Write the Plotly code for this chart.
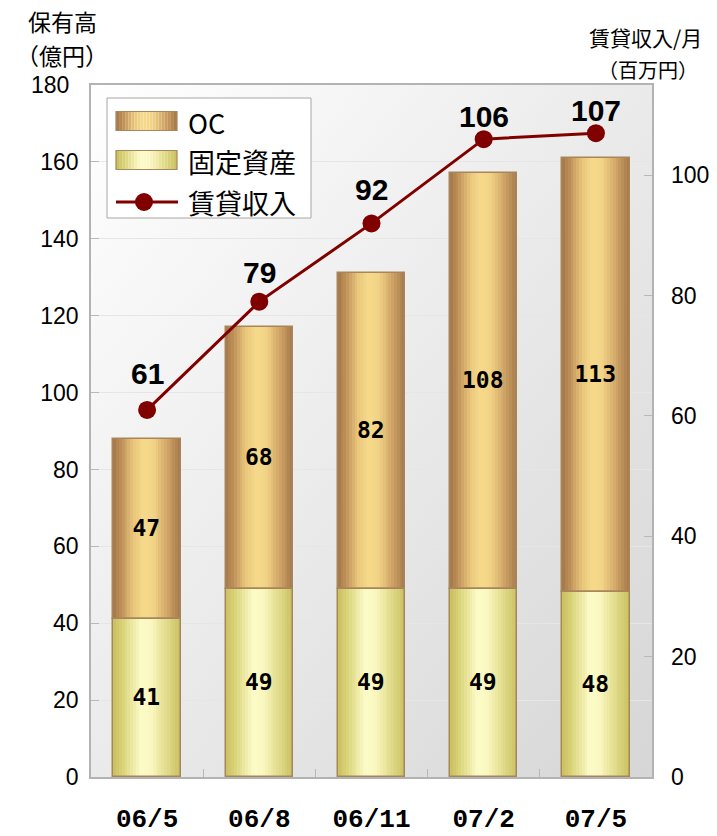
import base64
import plotly.graph_objects as go

# ---- data -------------------------------------------------------------
periods = ["06/5", "06/8", "06/11", "07/2", "07/5"]
fixed_assets = [41, 49, 49, 49, 48]          # 固定資産 (億円)
oc_holdings = [47, 68, 82, 108, 113]         # OC (億円)
rental_income = [61, 79, 92, 106, 107]       # 賃貸収入 (百万円/月)

left_ticks = [0, 20, 40, 60, 80, 100, 120, 140, 160]
left_top = 180
right_ticks = [0, 20, 40, 60, 80, 100]

# ---- styling ----------------------------------------------------------
W, H = 717, 836
ML, MR, MT, MB = 91, 65, 85, 59
PW, PH = W - ML - MR, H - MT - MB

BAR_W = 0.6
N_STRIPS = 24
CJK = "Noto Sans CJK JP"
SANS = "Liberation Sans"

OC_STOPS = [(0.0, "#a3764a"), (0.12, "#bf9259"), (0.3, "#e9c67c"), (0.45, "#f6da8a"),
            (0.6, "#f2d386"), (0.8, "#d0a566"), (1.0, "#a5774a")]
FIX_STOPS = [(0.0, "#c8bf5e"), (0.15, "#dbd57c"), (0.4, "#fcfac6"), (0.55, "#fbf8c2"),
             (0.8, "#e0da88"), (1.0, "#c9c060")]
EDGE = "#a8855a"
LINE_RED = "#800000"


def hex2rgb(h):
    h = h.lstrip("#")
    return tuple(int(h[i:i + 2], 16) for i in (0, 2, 4))


def grad(stops, t):
    for (t0, c0), (t1, c1) in zip(stops, stops[1:]):
        if t0 <= t <= t1:
            f = (t - t0) / (t1 - t0)
            a, b = hex2rgb(c0), hex2rgb(c1)
            r, g, bl = (round(a[k] + (b[k] - a[k]) * f) for k in range(3))
            return f"rgb({r},{g},{bl})"
    return stops[-1][1]


def px(x):
    return (x - ML) / PW


def py(y):
    return (H - MB - y) / PH


fig = go.Figure()

# stacked bars drawn as narrow vertical strips to give a cylinder shading
for i in range(N_STRIPS):
    t = (i + 0.5) / N_STRIPS
    off = -BAR_W / 2 + i * BAR_W / N_STRIPS
    fig.add_trace(go.Bar(x=periods, y=fixed_assets, width=BAR_W / N_STRIPS, offset=off,
                         marker=dict(color=grad(FIX_STOPS, t), line=dict(width=0)),
                         showlegend=False, hoverinfo="skip"))
    fig.add_trace(go.Bar(x=periods, y=oc_holdings, base=fixed_assets,
                         width=BAR_W / N_STRIPS, offset=off,
                         marker=dict(color=grad(OC_STOPS, t), line=dict(width=0)),
                         showlegend=False, hoverinfo="skip"))

# outlines + value labels
label_font = dict(family="DejaVu Sans Mono", size=23, color="black", weight="bold")
fig.add_trace(go.Bar(x=periods, y=fixed_assets, width=BAR_W, offset=-BAR_W / 2,
                     marker=dict(color="rgba(0,0,0,0)", line=dict(color=EDGE, width=1.5)),
                     text=fixed_assets, textposition="inside", insidetextanchor="middle",
                     textangle=0, textfont=label_font, constraintext="none",
                     showlegend=False, name="固定資産"))
fig.add_trace(go.Bar(x=periods, y=oc_holdings, base=fixed_assets, width=BAR_W,
                     offset=-BAR_W / 2,
                     marker=dict(color="rgba(0,0,0,0)", line=dict(color=EDGE, width=1.5)),
                     text=oc_holdings, textposition="inside", insidetextanchor="middle",
                     textangle=0, textfont=label_font, constraintext="none",
                     showlegend=False, name="OC"))

# rental income line (right axis)
fig.add_trace(go.Scatter(x=periods, y=rental_income, yaxis="y2", mode="lines+markers",
                         line=dict(color=LINE_RED, width=3),
                         marker=dict(size=18, color=LINE_RED),
                         showlegend=False, name="賃貸収入"))

annotations = []
label_lift = [36, 29, 34, 23, 23]
for p, v, lift in zip(periods, rental_income, label_lift):
    annotations.append(dict(x=p, y=v, xref="x", yref="y2", yshift=lift, text=str(v),
                            showarrow=False, xanchor="center", yanchor="middle",
                            font=dict(family=SANS, size=30, color="black", weight="bold")))


def note(x, y, text, font, xanchor="center"):
    return dict(x=px(x), y=py(y), xref="paper", yref="paper", text=text, showarrow=False,
                xanchor=xanchor, yanchor="middle", font=font)


# axis titles
title_font = dict(family=CJK, size=23, color="black")
annotations += [
    note(62, 21, "保有高", title_font),
    note(62, 55, "（億円）", title_font),
    note(645, 37, "賃貸収入/月", dict(family=CJK, size=21, color="black")),
    note(648, 69, "（百万円）", dict(family=CJK, size=20, color="black")),
    dict(x=px(71), y=left_top, xref="paper", yref="y", text=str(left_top), xanchor="right",
         yanchor="middle", showarrow=False, font=dict(family=SANS, size=23, color="black")),
]

# legend box
shapes = [dict(type="rect", xref="paper", yref="paper", x0=px(107), x1=px(311),
               y0=py(218), y1=py(98), fillcolor="white", line=dict(color="#a6a6a6", width=1),
               layer="above")]
sw_x0, sw_x1 = 116, 177
for stops, yc in ((OC_STOPS, 121), (FIX_STOPS, 160)):
    n = 20
    for i in range(n):
        t = (i + 0.5) / n
        shapes.append(dict(type="rect", xref="paper", yref="paper",
                           x0=px(sw_x0 + (sw_x1 - sw_x0) * i / n),
                           x1=px(sw_x0 + (sw_x1 - sw_x0) * (i + 1) / n),
                           y0=py(yc + 9.5), y1=py(yc - 9.5), fillcolor=grad(stops, t),
                           line=dict(width=0), layer="above"))
    shapes.append(dict(type="rect", xref="paper", yref="paper", x0=px(sw_x0), x1=px(sw_x1),
                       y0=py(yc + 9.5), y1=py(yc - 9.5), line=dict(color=EDGE, width=1.2),
                       layer="above"))
shapes.append(dict(type="line", xref="paper", yref="paper", x0=px(116), x1=px(178),
                   y0=py(202), y1=py(202), line=dict(color=LINE_RED, width=3), layer="above"))
shapes.append(dict(type="circle", xref="paper", yref="paper", x0=px(135), x1=px(153),
                   y0=py(211), y1=py(193), fillcolor=LINE_RED, line=dict(color=LINE_RED, width=0),
                   layer="above"))
legend_font = dict(family=CJK, size=27, color="black")
for txt, yc in (("OC", 122), ("固定資産", 161), ("賃貸収入", 202)):
    annotations.append(note(186, yc, txt, legend_font, xanchor="left"))

# plot background: soft diagonal grey gradient
bg_svg = (
    '<svg xmlns="http://www.w3.org/2000/svg" width="100" height="100" viewBox="0 0 100 100" '
    'preserveAspectRatio="none"><defs><linearGradient id="g" x1="0" y1="0" x2="1" y2="1">'
    '<stop offset="0" stop-color="#ffffff"/><stop offset="1" stop-color="#d6d6d6"/>'
    '</linearGradient></defs><rect width="100" height="100" fill="url(#g)"/></svg>'
)
bg_src = "data:image/svg+xml;base64," + base64.b64encode(bg_svg.encode()).decode()

axis_line = "#b3b3b3"
fig.update_layout(
    width=W, height=H,
    margin=dict(l=ML, r=MR, t=MT, b=MB, pad=0),
    paper_bgcolor="white", plot_bgcolor="rgba(0,0,0,0)",
    barmode="overlay", bargap=0,
    showlegend=False,
    images=[dict(source=bg_src, xref="paper", yref="paper", x=0, y=1, sizex=1, sizey=1,
                 xanchor="left", yanchor="top", sizing="stretch", layer="below")],
    xaxis=dict(type="category", categoryorder="array", categoryarray=periods,
               range=[-0.5, len(periods) - 0.5], tickson="boundaries",
               ticks="inside", ticklen=8, tickcolor="#b8b8b8",
               showline=True, mirror=True, linecolor=axis_line, linewidth=1.5,
               showgrid=False, ticklabelstandoff=17, automargin=False,
               tickfont=dict(family="Liberation Mono", size=26, color="black",
                             weight="bold")),
    yaxis=dict(range=[0, left_top], tickvals=left_ticks, ticktext=[str(v) for v in left_ticks],
               ticks="inside", ticklen=8, tickcolor="#b8b8b8",
               showgrid=True, gridcolor="#e6e6e6", gridwidth=1.2, zeroline=False,
               showline=True, mirror=True, linecolor=axis_line, linewidth=1.5,
               ticklabelstandoff=6, automargin=False,
               tickfont=dict(family=SANS, size=23, color="black")),
    yaxis2=dict(overlaying="y", side="right", range=[0, 115], tickvals=right_ticks,
                ticks="inside", ticklen=8, tickcolor="#b8b8b8", showgrid=False,
                zeroline=False, showline=False, ticklabelstandoff=18, automargin=False,
                tickfont=dict(family=SANS, size=23, color="black")),
    annotations=annotations,
    shapes=shapes,
)

fig.write_html("out.html")
